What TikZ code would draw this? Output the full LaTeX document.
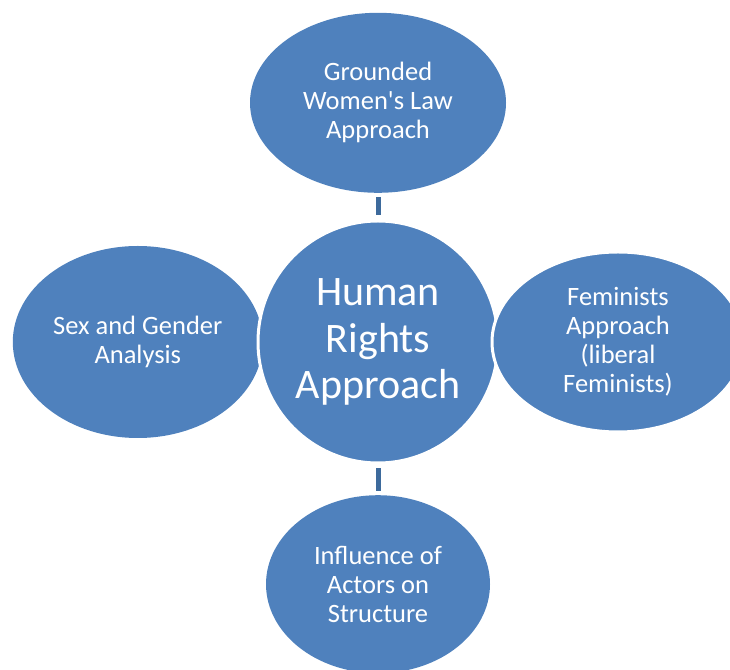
\documentclass[tikz,border=0pt]{standalone}
\usepackage{fontspec}
\setmainfont{Carlito}
\usetikzlibrary{positioning, shapes.geometric, backgrounds}
\definecolor{bubblefill}{HTML}{4F81BD}
\definecolor{linkcol}{HTML}{3D6A9C}
\tikzset{
  bubble/.style={ellipse, fill=bubblefill, text=white, align=center, inner sep=0pt,
    font=\fontsize{26.5}{29}\selectfont},
  hub/.style={bubble, draw=white, line width=3pt, minimum width=240pt, minimum height=242pt,
    font=\fontsize{42}{46.5}\selectfont},
  link/.style={draw=linkcol, line width=5pt, shorten <=4pt, shorten >=4pt},
}
\begin{document}
\begin{tikzpicture}
    \useasboundingbox (0,0) rectangle (730pt,669pt);
    \node[hub] (hub) at (378pt,327pt) {Human\\Rights\\Approach};
    \node[bubble, minimum width=256pt, minimum height=180pt, above=26.5pt of hub] (top)
      {Grounded\\Women\textquotesingle s Law\\Approach};
    \node[bubble, minimum width=224pt, minimum height=178pt, below=30.5pt of hub] (bottom)
      {Influence of\\Actors on\\Structure};
    \node[bubble, draw=white, line width=3pt, minimum width=252pt, minimum height=180pt,
      right=-9pt of hub] (right) {Feminists\\Approach\\(liberal\\Feminists)};
    \begin{scope}[on background layer]
      \node[bubble, minimum width=250pt, minimum height=192pt, left=-6.5pt of hub] (left)
        {Sex and Gender\\Analysis};
    \end{scope}
    \draw[link] (top) -- (hub);
    \draw[link] (hub) -- (bottom);
  \end{tikzpicture}
\end{document}
